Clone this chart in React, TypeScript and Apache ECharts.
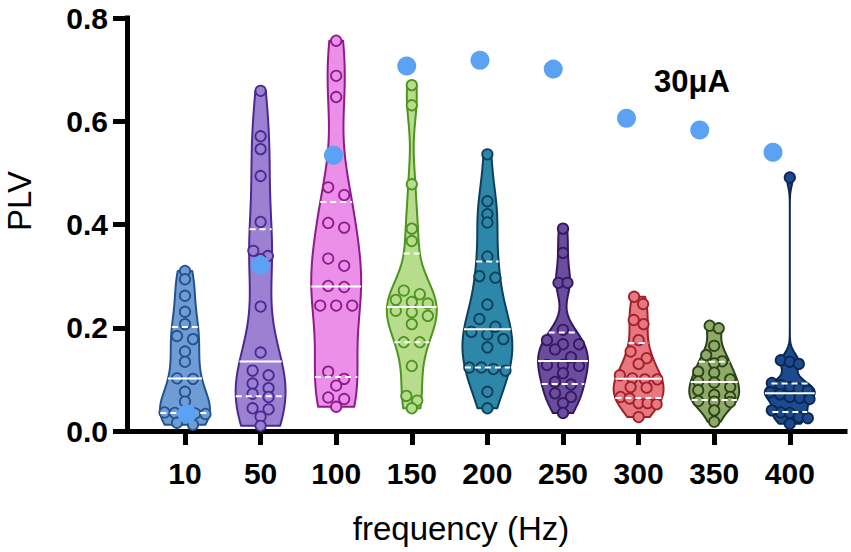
import React, { useEffect, useRef } from "react";
import * as echarts from "echarts";

// ---------- data ----------
const categories = ["10", "50", "100", "150", "200", "250", "300", "350", "400"];

const plv10 = [0.310, 0.294, 0.262, 0.231, 0.207, 0.184, 0.178, 0.154, 0.134, 0.102, 0.101, 0.076, 0.057, 0.036, 0.035, 0.035, 0.034, 0.033, 0.016, 0.012];
const plv50 = [0.659, 0.571, 0.546, 0.494, 0.405, 0.349, 0.339, 0.333, 0.241, 0.152, 0.117, 0.108, 0.092, 0.083, 0.072, 0.066, 0.044, 0.042, 0.028, 0.010];
const plv100 = [0.756, 0.688, 0.647, 0.472, 0.457, 0.403, 0.394, 0.334, 0.320, 0.281, 0.279, 0.243, 0.243, 0.243, 0.115, 0.101, 0.088, 0.065, 0.062, 0.047];
const plv150 = [0.670, 0.631, 0.478, 0.392, 0.368, 0.272, 0.265, 0.254, 0.250, 0.247, 0.233, 0.230, 0.223, 0.207, 0.172, 0.172, 0.126, 0.068, 0.059, 0.044];
const plv200 = [0.536, 0.445, 0.420, 0.404, 0.338, 0.300, 0.297, 0.245, 0.217, 0.202, 0.192, 0.187, 0.178, 0.162, 0.123, 0.123, 0.120, 0.117, 0.076, 0.044];
const plv250 = [0.392, 0.345, 0.287, 0.287, 0.196, 0.176, 0.168, 0.168, 0.158, 0.143, 0.128, 0.128, 0.126, 0.112, 0.095, 0.090, 0.073, 0.066, 0.054, 0.035];
const plv300 = [0.260, 0.246, 0.215, 0.207, 0.176, 0.154, 0.141, 0.130, 0.108, 0.102, 0.100, 0.100, 0.085, 0.084, 0.066, 0.063, 0.054, 0.054, 0.052, 0.027];
const plv350 = [0.204, 0.199, 0.165, 0.147, 0.135, 0.131, 0.115, 0.113, 0.100, 0.096, 0.094, 0.085, 0.079, 0.070, 0.066, 0.058, 0.057, 0.056, 0.040, 0.018];
const plv400 = [0.491, 0.137, 0.134, 0.130, 0.093, 0.089, 0.085, 0.082, 0.078, 0.075, 0.071, 0.066, 0.064, 0.062, 0.040, 0.036, 0.035, 0.027, 0.025, 0.014];

const groups = [plv10, plv50, plv100, plv150, plv200, plv250, plv300, plv350, plv400];

// big blue markers (one per frequency)
const peakPLV = [0.033, 0.321, 0.534, 0.707, 0.718, 0.701, 0.606, 0.583, 0.540];

const yTickValues = [0, 0.2, 0.4, 0.6, 0.8];

// ---------- styles ----------
const fills = ["#6f9cd4", "#9c81d3", "#eb8fe9", "#b7dd8c", "#2c87a9", "#6b4c9f", "#e8787f", "#8fa966", "#1c4b8d"];
const strokes = ["#22538f", "#4a2a92", "#8e1b8e", "#4e9420", "#103f5c", "#33195f", "#a3202b", "#2b421b", "#0b2755"];
const FONT = "'Liberation Sans', Arial, Helvetica, sans-serif";
const BW_FACTOR = 0.8;

function quantile(sorted: number[], p: number) {
  const n = sorted.length;
  const pos = (n + 1) * p;
  const lo = Math.floor(pos);
  const frac = pos - lo;
  if (lo < 1) return sorted[0];
  if (lo >= n) return sorted[n - 1];
  return sorted[lo - 1] + frac * (sorted[lo] - sorted[lo - 1]);
}

function renderViolin(params: any, api: any) {
  const gi = api.value(0);
  const vals = groups[gi];
  const sorted = [...vals].sort((a, b) => a - b);
  const n = sorted.length;
  const cx = api.coord([gi, 0])[0];
  const unitPx = api.size([1, 0])[0];
  const halfMax = unitPx * 0.33;

  const mean = sorted.reduce((s, v) => s + v, 0) / n;
  const sd = Math.sqrt(sorted.reduce((s, v) => s + (v - mean) * (v - mean), 0) / (n - 1));
  const q1 = quantile(sorted, 0.25);
  const med = quantile(sorted, 0.5);
  const q3 = quantile(sorted, 0.75);
  const spread = Math.min(sd, (q3 - q1) / 1.34) || sd;
  const h = BW_FACTOR * 0.9 * spread * Math.pow(n, -0.2);
  const dens = (y: number) => sorted.reduce((s, x) => s + Math.exp(-0.5 * ((y - x) / h) ** 2), 0);

  const lo = sorted[0];
  const hi = sorted[n - 1];
  const M = 160;
  const ys: number[] = [];
  const ds: number[] = [];
  let dmax = 0;
  for (let k = 0; k <= M; k++) {
    const y = lo + ((hi - lo) * k) / M;
    const d = dens(y);
    ys.push(y);
    ds.push(d);
    if (d > dmax) dmax = d;
  }
  const wAt = (y: number) => (dens(y) / dmax) * halfMax;
  const right: number[][] = [];
  const left: number[][] = [];
  for (let k = 0; k <= M; k++) {
    const py = api.coord([gi, ys[k]])[1];
    const w = (ds[k] / dmax) * halfMax;
    right.push([cx + w, py]);
    left.unshift([cx - w, py]);
  }

  const children: any[] = [];
  children.push({
    type: "polygon",
    shape: { points: right.concat(left) },
    style: { fill: fills[gi], stroke: strokes[gi], lineWidth: 2, lineJoin: "round" },
  });

  // row-based symmetric point layout
  const R = 5.2;
  const ROW_H = 8;
  const desc = [...sorted].reverse();
  const rows: { v: number; py: number }[][] = [];
  for (const v of desc) {
    const py = api.coord([gi, v])[1];
    const cur = rows[rows.length - 1];
    if (cur && py - cur[0].py < ROW_H) cur.push({ v, py });
    else rows.push([{ v, py }]);
  }
  for (const row of rows) {
    const k = row.length;
    const yMid = row.reduce((s, p) => s + p.v, 0) / k;
    const avail = Math.max(0, 2 * (wAt(yMid) - R + 1));
    const S = k > 1 ? Math.min(16, Math.max(9, avail / (k - 1))) : 0;
    row.forEach((p, j) => {
      const off = (j - (k - 1) / 2) * S;
      children.push({
        type: "circle",
        shape: { cx: cx + off, cy: p.py, r: R },
        style: { fill: fills[gi], stroke: strokes[gi], lineWidth: 1.8 },
      });
    });
  }

  const line = (y: number, dashed: boolean) => {
    const py = api.coord([gi, y])[1];
    const w = wAt(y);
    return {
      type: "line",
      shape: { x1: cx - w, y1: py, x2: cx + w, y2: py },
      style: { stroke: "#ffffff", lineWidth: 2, lineDash: dashed ? [6, 4] : null },
    };
  };
  children.push(line(q3, true), line(med, false), line(q1, true));

  return { type: "group", children };
}

export default function App() {
  const ref = useRef<HTMLDivElement>(null);
  useEffect(() => {
    if (!ref.current) return;
    const chart = echarts.init(ref.current, null, { renderer: "svg" });
    const idx = categories.map((_, i) => i);
    chart.setOption({
      animation: false,
      backgroundColor: "#ffffff",
      grid: { left: 127, right: 6, top: 18, bottom: 121, containLabel: false },
      xAxis: [
        {
          type: "value",
          min: -0.767,
          max: 8.73,
          axisLine: { show: true, onZero: false, lineStyle: { color: "#000", width: 5, cap: "square" } },
          axisTick: { show: true, customValues: idx, length: 14, lineStyle: { color: "#000", width: 5 } },
          axisLabel: {
            show: true,
            customValues: idx,
            formatter: (v: number) => categories[Math.round(v)] ?? "",
            fontSize: 30,
            fontWeight: "bold",
            fontFamily: FONT,
            color: "#000",
            margin: 27,
          },
          splitLine: { show: false },
        },
        {
          type: "value",
          min: -0.819,
          max: 8.983,
          show: false,
          splitLine: { show: false },
        },
      ],
      yAxis: {
        type: "value",
        min: 0,
        max: 0.8,
        interval: 0.2,
        axisLine: { show: true, onZero: false, lineStyle: { color: "#000", width: 5, cap: "square" } },
        axisTick: { show: true, length: 14, lineStyle: { color: "#000", width: 5 } },
        axisLabel: {
          customValues: yTickValues,
          formatter: (v: number) => v.toFixed(1),
          fontSize: 30,
          fontWeight: "bold",
          fontFamily: FONT,
          color: "#000",
          margin: 19,
        },
        splitLine: { show: false },
      },
      graphic: [
        {
          type: "text",
          x: 19.5,
          y: 201,
          rotation: Math.PI / 2,
          style: { text: "PLV", fontSize: 33, fontFamily: FONT, fill: "#000", align: "center", verticalAlign: "middle" },
        },
        {
          type: "text",
          x: 461,
          y: 528,
          style: { text: "frequency (Hz)", fontSize: 33, fontFamily: FONT, fill: "#000", align: "center", verticalAlign: "middle" },
        },
        {
          type: "text",
          x: 692,
          y: 81,
          style: { text: "30μA", fontSize: 31, fontWeight: "bold", fontFamily: FONT, fill: "#000", align: "center", verticalAlign: "middle" },
        },
      ],
      series: [
        {
          type: "custom",
          xAxisIndex: 0,
          yAxisIndex: 0,
          data: idx.map((i) => [i]),
          encode: { x: 0 },
          renderItem: renderViolin,
          clip: false,
          z: 2,
        },
        {
          type: "scatter",
          xAxisIndex: 1,
          yAxisIndex: 0,
          data: peakPLV.map((v, i) => [i, v]),
          symbol: "circle",
          symbolSize: 19,
          itemStyle: { color: "#5ba2f2", opacity: 1 },
          z: 5,
        },
      ],
    });
    return () => chart.dispose();
  }, []);
  return (
    <div
      ref={ref}
      style={{ position: "fixed", left: 0, top: 0, width: 851, height: 552, background: "#fff" }}
    />
  );
}
